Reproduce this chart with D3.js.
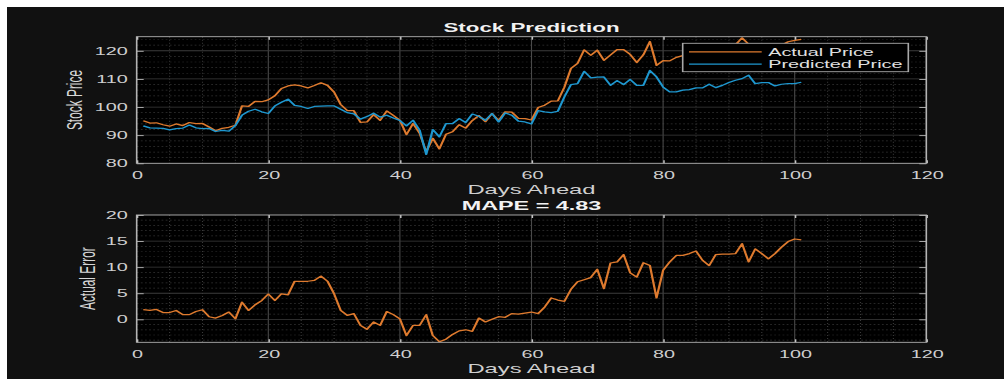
<!DOCTYPE html>
<html>
<head>
<meta charset="utf-8">
<script src="https://cdn.jsdelivr.net/npm/d3@7"></script>
<style>
  html, body { margin: 0; padding: 0; background: #fff; }
  svg { display: block; }
  text { font-family: "Liberation Sans", Arial, Helvetica, sans-serif; }
</style>
</head>
<body>
<svg id="chart"></svg>
<script>
// days 1..101
const predicted = [93.3, 92.6, 92.5, 92.4, 91.9, 92.3, 92.5, 93.6, 92.6, 92.3,
  92.4, 91.3, 91.7, 91.4, 93.4, 97.1, 98.5, 99.2, 98.3, 97.7,
  100.4, 101.7, 102.8, 100.6, 100.2, 99.5, 100.2, 100.3, 100.4, 100.4,
  99.2, 98.0, 97.6, 95.7, 96.6, 97.8, 96.4, 97.1, 96.1, 95.2,
  93.3, 95.3, 91.8, 83.2, 92.0, 89.4, 94.1, 94.1, 95.9, 94.5,
  97.5, 96.7, 95.3, 97.7, 94.7, 97.9, 97.1, 95.0, 94.7, 94.0,
  98.7, 98.3, 98.0, 98.5, 103.6, 108.0, 108.3, 112.7, 110.4, 110.6,
  110.7, 107.7, 109.4, 108.0, 109.8, 107.7, 107.7, 113.0, 110.7, 107.1,
  105.4, 105.4, 106.0, 106.2, 106.8, 106.8, 108.1, 106.9, 107.7, 108.7,
  109.5, 110.1, 111.3, 108.3, 108.7, 108.7, 107.5, 108.1, 108.3, 108.3,
  108.8];

const actual = [95.15, 94.3, 94.4, 93.7, 93.2, 94.0, 93.4, 94.5, 94.1, 94.15,
  92.9, 91.55, 92.45, 92.8, 93.5, 100.4, 100.2, 102.0, 101.9, 102.55,
  104.0, 106.6, 107.5, 107.9, 107.5, 106.8, 107.65, 108.6, 107.7, 105.3,
  100.9, 98.75, 98.7, 94.55, 94.7, 97.3, 95.25, 98.6, 97.0, 95.3,
  90.2, 94.15, 90.65, 84.1, 88.9, 85.1, 90.3, 91.2, 93.7, 92.5,
  95.2, 96.95, 94.8, 97.7, 95.2, 98.3, 98.2, 96.0, 95.9, 95.4,
  99.8, 100.65, 102.1, 102.2, 107.05, 113.75, 115.5, 120.3, 118.4, 120.2,
  116.6, 118.5, 120.4, 120.4, 118.7, 115.8, 118.55, 123.3, 114.8, 116.5,
  116.4, 117.65, 118.25, 118.8, 119.9, 118.1, 118.4, 119.3, 120.2, 121.2,
  122.1, 124.6, 122.3, 121.8, 121.3, 120.3, 120.1, 121.95, 123.2, 123.7,
  124.05];

const actualError = [1.85, 1.7, 1.9, 1.3, 1.3, 1.7, 0.9, 0.9, 1.5, 1.85,
  0.5, 0.25, 0.75, 1.4, 0.1, 3.3, 1.7, 2.8, 3.6, 4.85,
  3.6, 4.9, 4.7, 7.3, 7.3, 7.3, 7.45, 8.3, 7.3, 4.9,
  1.7, 0.75, 1.1, -1.15, -1.9, -0.5, -1.15, 1.5, 0.9, 0.1,
  -3.1, -1.15, -1.15, 0.9, -3.1, -4.3, -3.8, -2.9, -2.2, -2.0,
  -2.3, 0.25, -0.5, 0, 0.5, 0.4, 1.1, 1.0, 1.2, 1.4,
  1.1, 2.35, 4.1, 3.7, 3.45, 5.75, 7.2, 7.6, 8.0, 9.6,
  5.9, 10.8, 11.0, 12.4, 8.9, 8.1, 10.85, 10.3, 4.1, 9.4,
  11.0, 12.25, 12.25, 12.6, 13.1, 11.3, 10.3, 12.4, 12.5, 12.5,
  12.6, 14.5, 11.0, 13.5, 12.6, 11.6, 12.6, 13.85, 14.9, 15.4,
  15.25];

const xTicks = [0, 20, 40, 60, 80, 100, 120];
const priceTicks = [80, 90, 100, 110, 120];
const errorTicks = [0, 5, 10, 15, 20];
const legendNames = ["Actual Price", "Predicted Price"];

const orange = "#DE7A2E";
const blue = "#1E97CF";

// picture is stretched sideways: draw in narrow units, let the viewBox widen it
const K = 1.8;
const wSvg = 1004;
const hSvg = 379;
const w0 = wSvg / K;

const svg = d3.select("#chart")
  .attr("width", wSvg)
  .attr("height", hSvg)
  .attr("viewBox", `0 0 ${w0} ${hSvg}`)
  .attr("preserveAspectRatio", "none");

svg.append("rect")
  .attr("x", 7 / K).attr("y", 7)
  .attr("width", w0).attr("height", hSvg)
  .attr("fill", "#111111");

const xScale = d3.scaleLinear()
  .domain([0, 120])
  .range([136.7 / K, 926.3 / K]);

function drawPanel(opt) {
  const g = svg.append("g");
  const yScale = d3.scaleLinear().domain(opt.yDomain).range([opt.yBottom, opt.yTop]);
  const [xl, xr] = xScale.range();
  const yt = opt.yTop, yb = opt.yBottom;

  g.append("rect")
    .attr("x", xl).attr("y", yt)
    .attr("width", xr - xl).attr("height", yb - yt)
    .attr("fill", "#000");

  // minor grid
  const xMinor = d3.range(5, 120, 5).filter(v => v % 20 !== 0);
  g.append("g").selectAll("line")
    .data(xMinor).enter().append("line")
    .attr("x1", d => xScale(d)).attr("x2", d => xScale(d))
    .attr("y1", yt).attr("y2", yb)
    .attr("stroke", "#3a3a3a").attr("stroke-width", 0.6)
    .attr("stroke-dasharray", "1,2");

  const yMinor = d3.range(opt.yTicks[0] - opt.yMinorStep * 10, opt.yDomain[1], opt.yMinorStep)
    .filter(v => v > opt.yDomain[0] && v < opt.yDomain[1] && !opt.yTicks.includes(+v.toFixed(4)));
  g.append("g").selectAll("line")
    .data(yMinor).enter().append("line")
    .attr("x1", xl).attr("x2", xr)
    .attr("y1", d => yScale(d)).attr("y2", d => yScale(d))
    .attr("stroke", "#333").attr("stroke-width", 0.7)
    .attr("stroke-dasharray", "1,1.3");

  // major grid
  g.append("g").selectAll("line")
    .data(xTicks.slice(1, -1)).enter().append("line")
    .attr("x1", d => xScale(d)).attr("x2", d => xScale(d))
    .attr("y1", yt).attr("y2", yb)
    .attr("stroke", "#4a4a4a").attr("stroke-width", 0.6);

  g.append("g").selectAll("line")
    .data(opt.yTicks.filter(v => v > opt.yDomain[0] && v < opt.yDomain[1])).enter().append("line")
    .attr("x1", xl).attr("x2", xr)
    .attr("y1", d => yScale(d)).attr("y2", d => yScale(d))
    .attr("stroke", "#3c3c3c").attr("stroke-width", 0.8);

  // data
  const clipId = "clip" + opt.id;
  svg.append("clipPath").attr("id", clipId)
    .append("rect")
    .attr("x", xl).attr("y", yt)
    .attr("width", xr - xl).attr("height", yb - yt);

  const lineGen = d3.line()
    .x((d, i) => xScale(i + 1))
    .y(d => yScale(d));

  opt.series.forEach(s => {
    g.append("path")
      .datum(s.values)
      .attr("clip-path", `url(#${clipId})`)
      .attr("fill", "none")
      .attr("stroke", s.color)
      .attr("stroke-width", 1.25)
      .attr("stroke-linejoin", "round")
      .attr("d", lineGen);
  });

  // axes
  const tickCol = "#b4b4b4";
  const xAxis = g.append("g")
    .attr("transform", `translate(0, ${yb})`)
    .call(d3.axisBottom(xScale).tickValues(xTicks).tickSize(-3).tickPadding(7.9));
  const xTop = g.append("g")
    .attr("transform", `translate(0, ${yt})`)
    .call(d3.axisTop(xScale).tickValues(xTicks).tickSize(-3).tickFormat(""));
  const yAxis = g.append("g")
    .attr("transform", `translate(${xl}, 0)`)
    .call(d3.axisLeft(yScale).tickValues(opt.yTicks).tickSize(-7 / K).tickPadding(5));
  const yRight = g.append("g")
    .attr("transform", `translate(${xr}, 0)`)
    .call(d3.axisRight(yScale).tickValues(opt.yTicks).tickSize(-7 / K).tickFormat(""));

  [xAxis, xTop, yAxis, yRight].forEach(a => {
    a.select(".domain").remove();
    a.selectAll(".tick line").attr("stroke", "#c8c8c8").attr("stroke-width", 0.8);
    a.selectAll(".tick text")
      .attr("fill", "#cfcfcf")
      .attr("font-size", 11)
      .attr("font-family", "Liberation Sans, Arial, sans-serif");
  });

  g.append("rect")
    .attr("x", xl).attr("y", yt)
    .attr("width", xr - xl).attr("height", yb - yt)
    .attr("fill", "none")
    .attr("stroke", tickCol).attr("stroke-width", 0.9);

  // title
  g.append("text")
    .attr("x", (xl + xr) / 2).attr("y", yt - 4.6)
    .attr("text-anchor", "middle")
    .attr("font-size", opt.titleSize).attr("font-weight", "bold")
    .attr("fill", "#f2f2f2")
    .text(opt.title);

  // x label
  g.append("text")
    .attr("x", (xl + xr) / 2).attr("y", yb + 31.2)
    .attr("text-anchor", "middle")
    .attr("font-size", 13.2)
    .attr("fill", "#d0d0d0")
    .text("Days Ahead");

  // y label
  g.append("text")
    .attr("transform", `translate(${opt.yLabelX / K}, ${(yt + yb) / 2}) rotate(-90)`)
    .attr("text-anchor", "middle")
    .attr("font-size", 11.9)
    .attr("fill", "#d6d6d6")
    .text(opt.yLabel);

  return { g, yScale };
}

const topPanel = drawPanel({
  id: 1,
  yDomain: [80, 125],
  yTop: 36.7, yBottom: 163.3,
  yTicks: priceTicks, yMinorStep: 2,
  title: "Stock Prediction", titleSize: 12.4,
  yLabel: "Stock Price", yLabelX: 81.5,
  series: [{ values: actual, color: orange }, { values: predicted, color: blue }]
});

drawPanel({
  id: 2,
  yDomain: [-4.4, 20],
  yTop: 215, yBottom: 342.3,
  yTicks: errorTicks, yMinorStep: 1,
  title: "MAPE = 4.83", titleSize: 13,
  yLabel: "Actual Error", yLabelX: 95,
  series: [{ values: actualError, color: orange }]
});

// legend
const leg = topPanel.g.append("g");
leg.append("rect")
  .attr("x", 682.7 / K).attr("y", 43.3)
  .attr("width", (908.3 - 682.7) / K).attr("height", 71.7 - 43.3)
  .attr("fill", "#000")
  .attr("stroke", "#a8a8a8").attr("stroke-width", 0.9);

const legRows = leg.selectAll("g.row")
  .data(legendNames).enter().append("g")
  .attr("class", "row")
  .attr("transform", (d, i) => `translate(0, ${51.8 + i * 12.4})`);

legRows.append("line")
  .attr("x1", 689 / K).attr("x2", 761.7 / K)
  .attr("stroke", (d, i) => [orange, blue][i])
  .attr("stroke-width", 1.2);

legRows.append("text")
  .attr("x", 768.3 / K).attr("y", 4)
  .attr("font-size", 11)
  .attr("fill", "#e0e0e0")
  .text(d => d);
</script>
</body>
</html>
